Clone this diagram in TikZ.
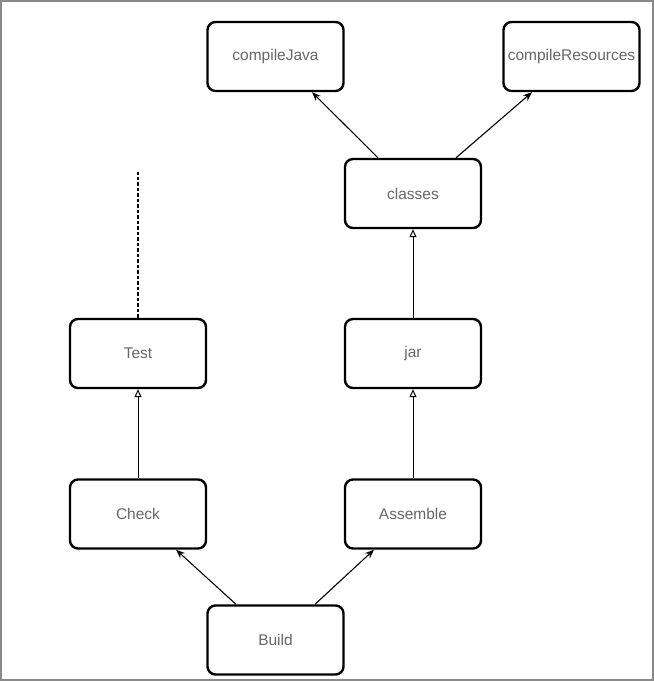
\documentclass[tikz,border=0pt]{standalone}
\usepackage{fontspec}
\setmainfont{Liberation Sans}
\usetikzlibrary{arrows.meta}
\definecolor{txtgray}{HTML}{666666}
\definecolor{framegray}{HTML}{8A8A8A}
\begin{document}
\begin{tikzpicture}[x=1pt,y=1pt,
  taskbox/.style={draw=black,line width=2.4pt,rounded corners=8pt,minimum width=136pt,minimum height=69pt,inner sep=0pt,text=txtgray,font=\fontsize{15.5}{18}\selectfont},
  dep/.style={draw=black,line width=1pt,-{Triangle[open,length=8pt,width=7pt]}},
  diag/.style={draw=black,line width=1.1pt,-{Stealth[length=9pt,width=7pt]}},
  dashdep/.style={draw=black,line width=1.4pt,dash pattern=on 3.5pt off 2pt}]
\useasboundingbox (0,0) rectangle (654,681);
\draw[framegray,line width=2pt] (1,1) rectangle (653,680);
\node[taskbox] (cj) at (275.5,624.5) {compileJava};
\node[taskbox] (cr) at (571.5,624.5) {compileResources};
\node[taskbox] (classes) at (413,487.5) {classes};
\node[taskbox] (test) at (138,327.5) {Test};
\node[taskbox] (jar) at (413,327.5) {jar};
\node[taskbox] (check) at (138,167) {Check};
\node[taskbox] (assemble) at (413,167) {Assemble};
\node[taskbox] (build) at (275.5,41) {Build};
\coordinate (testtop) at (138,509);
\draw[diag] ([xshift=-35pt]classes.north) -- ([xshift=36.5pt]cj.south);
\draw[diag] ([xshift=43pt]classes.north) -- ([xshift=-39.5pt]cr.south);
\draw[dep] (jar.north) -- (classes.south);
\draw[dep] (assemble.north) -- (jar.south);
\draw[dep] (check.north) -- (test.south);
\draw[diag] ([xshift=-39.5pt]build.north) -- ([xshift=38pt]check.south);
\draw[diag] ([xshift=39.5pt]build.north) -- ([xshift=-39pt]assemble.south);
\draw[dashdep] (test.north) -- (testtop);
\end{tikzpicture}
\end{document}
